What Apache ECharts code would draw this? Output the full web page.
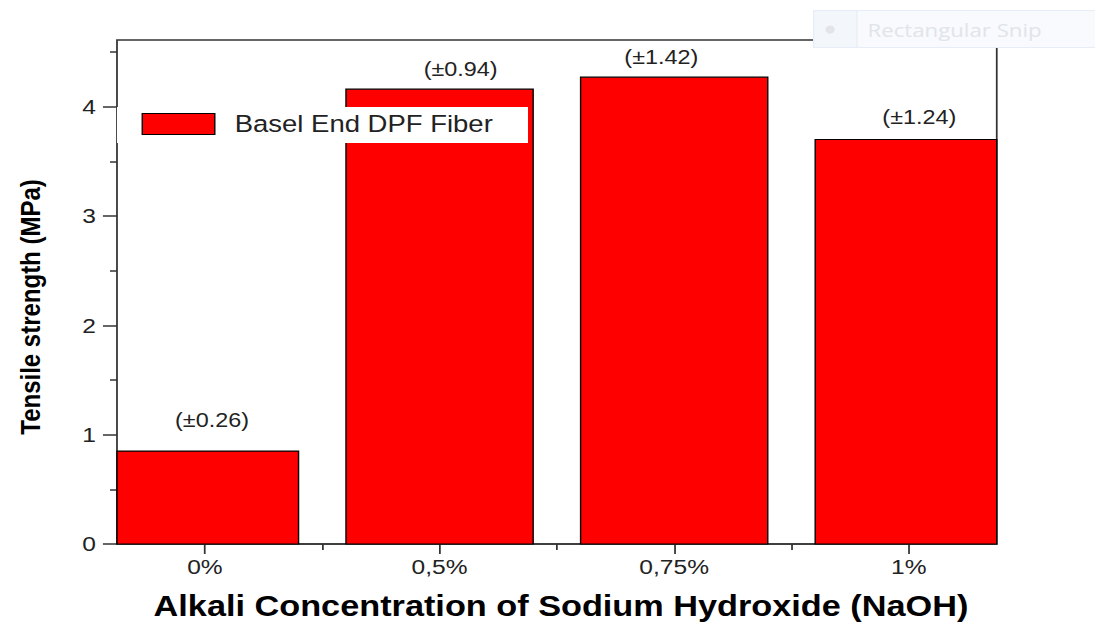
<!DOCTYPE html>
<html lang="en">
  <head>
    <meta charset="utf-8" />
    <style>
      html, body {
        margin: 0;
        width: 100%;
        height: 100%;
        overflow: hidden;
        background: #fff;
      }
      /* the source picture is stretched sideways, so draw narrower and stretch */
      #container {
        width: 936px;
        height: 627px;
        transform: scaleX(1.1699);
        transform-origin: 0 0;
      }
    </style>
    <script src="https://cdn.jsdelivr.net/npm/echarts@6/dist/echarts.min.js"></script>
  </head>

  <body>
    <div id="container"></div>

    <script>
      var categories = ["0%", "0,5%", "0,75%", "1%"];
      var strength = [0.85, 4.16, 4.27, 3.7];
      var deviation = ["±0.26", "±0.94", "±1.42", "±1.24"];
      var yTicks = [0, 1, 2, 3, 4];
      var yMinorTicks = [0.5, 1.5, 2.5, 3.5, 4.5];
      var xTicks = [1, 2, 3, 4];
      var xMinorTicks = [1.5, 2.5, 3.5];
      var seriesName = "Basel End DPF Fiber";

      (function () {
        var chart = echarts.init(document.querySelector("#container"), null, { renderer: "svg" });
        var font = "'Liberation Sans', Arial, sans-serif";
        var ink = "#222";
        var frame = "#333";
        var barRed = "#ff0000";
        var barW = 160;

        // nudge each error label a bit, as in the picture
        var labelShift = [[6, -11], [18, 0], [-11, 0], [9, -2]];

        // bars are cut at the frame like in the original plot
        function renderBar(params, api) {
          var i = params.dataIndex;
          var base = api.coord([api.value(0), 0]);
          var top = api.coord([api.value(0), api.value(1)]);
          var cs = params.coordSys;
          var rect = echarts.graphic.clipRectByRect(
            { x: base[0] - barW / 2, y: top[1], width: barW, height: base[1] - top[1] },
            { x: cs.x, y: cs.y, width: cs.width, height: cs.height }
          );
          return {
            type: "group",
            children: [
              { type: "rect", shape: rect, style: { fill: barRed, stroke: "#000", lineWidth: 1.2 } },
              {
                type: "text",
                x: top[0] + labelShift[i][0],
                y: top[1] - 10 + labelShift[i][1],
                style: {
                  text: "(" + deviation[i] + ")",
                  fontFamily: font,
                  fontSize: 20,
                  fill: ink,
                  align: "center",
                  verticalAlign: "bottom"
                }
              }
            ]
          };
        }

        function tickAxis(values, len) {
          return { show: true, length: len, customValues: values, lineStyle: { color: frame, width: 1.5 } };
        }

        var option = {
          animation: false,
          grid: {
            left: 100,
            right: 84,
            top: 40,
            bottom: 83,
            show: true,
            borderColor: frame,
            borderWidth: 1.5,
            backgroundColor: "transparent"
          },
          legend: {
            left: 100,
            top: 107,
            orient: "vertical",
            backgroundColor: "#fff",
            padding: [5, 30, 7, 21],
            itemWidth: 62,
            itemHeight: 21,
            textStyle: { fontFamily: font, fontSize: 23.5, color: ink, padding: [0, 0, 0, 12] },
            data: [
              { name: seriesName, icon: "rect", itemStyle: { color: barRed, borderColor: "#000", borderWidth: 1.2 } }
            ]
          },
          xAxis: [
            {
              type: "value",
              min: 0.625,
              max: 4.375,
              splitLine: { show: false },
              axisLine: { show: true, onZero: false, lineStyle: { color: frame, width: 1.5 } },
              axisTick: tickAxis(xTicks, 10),
              axisLabel: {
                customValues: xTicks,
                margin: 12,
                fontFamily: font,
                fontSize: 21,
                color: ink,
                formatter: function (v) {
                  return categories[Math.round(v) - 1];
                }
              },
              name: "Alkali Concentration of Sodium Hydroxide (NaOH)",
              nameLocation: "middle",
              nameGap: 47,
              nameTextStyle: { fontFamily: font, fontSize: 29.3, fontWeight: "bold", color: "#000", padding: [0, 0, 0, 7] }
            },
            {
              // minor ticks between the categories
              type: "value",
              position: "bottom",
              min: 0.625,
              max: 4.375,
              splitLine: { show: false },
              axisLine: { show: false, onZero: false },
              axisLabel: { show: false },
              axisTick: tickAxis(xMinorTicks, 6)
            }
          ],
          yAxis: [
            {
              type: "value",
              min: 0,
              max: 4.61,
              splitLine: { show: false },
              axisLine: { show: false, onZero: false },
              axisTick: tickAxis(yTicks, 12),
              axisLabel: { customValues: yTicks, margin: 18, fontFamily: font, fontSize: 21, color: ink },
              name: "Tensile strength (MPa)",
              nameLocation: "middle",
              nameGap: 62,
              nameTextStyle: { fontFamily: font, fontSize: 24, fontWeight: "bold", color: "#000", padding: [0, 30, 0, 0] }
            },
            {
              type: "value",
              position: "left",
              min: 0,
              max: 4.61,
              splitLine: { show: false },
              axisLine: { show: false, onZero: false },
              axisLabel: { show: false },
              axisTick: tickAxis(yMinorTicks, 6)
            }
          ],
          graphic: [
            {
              // faint screen-capture tooltip in the corner
              type: "group",
              left: 695,
              top: 10,
              z: -10,
              children: [
                { type: "rect", shape: { x: 0, y: 0, width: 241, height: 37 }, style: { fill: "#f8fafd", stroke: "#e6edf6", lineWidth: 1 } },
                { type: "rect", shape: { x: 0, y: 0, width: 37, height: 37 }, style: { fill: "#f3f6fb", stroke: "#e6edf6", lineWidth: 1 } },
                { type: "circle", shape: { cx: 14, cy: 19, r: 4 }, style: { fill: "#e2e4e8" } },
                { type: "text", x: 46, y: 19, style: { text: "Rectangular Snip", fontFamily: "'Open Sans', sans-serif", fontSize: 19, fill: "#e1e4e9", verticalAlign: "middle" } }
              ]
            }
          ],
          series: [
            {
              name: seriesName,
              type: "custom",
              renderItem: renderBar,
              encode: { x: 0, y: 1 },
              itemStyle: { color: barRed, borderColor: "#000", borderWidth: 1.2 },
              data: strength.map(function (v, i) {
                return [i + 1, v];
              })
            }
          ]
        };
        chart.setOption(option);
      })();
    </script>
  </body>
</html>
